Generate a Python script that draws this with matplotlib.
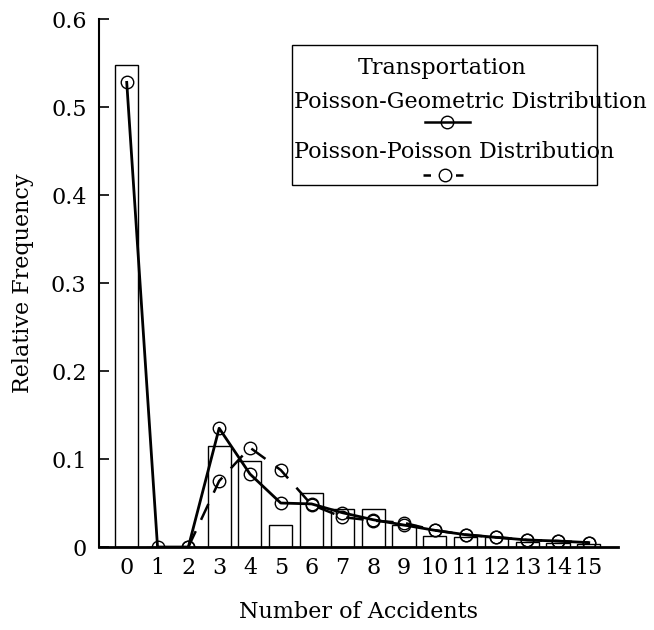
import numpy as np
import matplotlib.pyplot as plt
from matplotlib.patches import Rectangle

plt.rcParams['font.family'] = ['DejaVu Serif']

accidents = list(range(16))
observed = [0.548, 0.0, 0.0, 0.115, 0.098, 0.025, 0.061, 0.043, 0.043,
            0.025, 0.013, 0.011, 0.011, 0.006, 0.005, 0.003]
poisson_geometric = [0.528, 0.0, 0.0, 0.135, 0.083, 0.050, 0.049, 0.039, 0.031,
                     0.025, 0.019, 0.014, 0.011, 0.008, 0.0068, 0.005]
pp_x = list(range(2, 16))
poisson_poisson = [0.0, 0.075, 0.113, 0.0875, 0.048, 0.034, 0.030,
                   0.0275, 0.019, 0.014, 0.011, 0.008, 0.0068, 0.005]
tick_labels = [str(k) for k in accidents]

fig = plt.figure(figsize=(6.54, 6.3), dpi=100)
ax = fig.add_axes([0.1514, 0.1317, 0.7936, 0.8381])

ax.bar(accidents, observed, width=0.75, color='white', edgecolor='black', linewidth=1.0, zorder=1)
ax.plot(accidents, poisson_geometric, '-', color='black', lw=2.0, marker='o', ms=9,
        mfc='none', mec='black', mew=1.0, zorder=3)
ax.plot(pp_x, poisson_poisson, color='black', lw=1.8, dashes=(7, 5), marker='o', ms=9,
        mfc='none', mec='black', mew=1.0, zorder=2)

ax.set_xlim(-0.9, 15.95)
ax.set_ylim(0, 0.6)
ax.set_xticks(accidents)
ax.set_xticklabels(tick_labels)
ax.set_yticks([0, 0.1, 0.2, 0.3, 0.4, 0.5, 0.6])
ax.set_yticklabels(['0', '0.1', '0.2', '0.3', '0.4', '0.5', '0.6'])
ax.tick_params(axis='x', length=0, pad=7, labelsize=16)
ax.tick_params(axis='y', direction='in', length=7, width=1.2, pad=9, labelsize=16)
ax.spines['top'].set_visible(False)
ax.spines['right'].set_visible(False)
ax.spines['left'].set_linewidth(1.5)
ax.spines['bottom'].set_linewidth(2.0)

ax.set_xlabel('Number of Accidents', fontsize=16, labelpad=16)
ax.set_ylabel('Relative Frequency', fontsize=16, labelpad=12)

# hand-built legend box
tr = ax.transAxes
ax.add_patch(Rectangle((0.372, 0.686), 0.587, 0.265, transform=tr, fill=False,
                       edgecolor='black', lw=1.0, clip_on=False, zorder=4))
ax.text(0.661, 0.907, 'Transportation', transform=tr, ha='center', va='center', fontsize=16)
ax.text(0.376, 0.843, 'Poisson-Geometric Distribution', transform=tr, ha='left', va='center', fontsize=16)
ax.plot([0.628, 0.715], [0.805, 0.805], '-', color='black', lw=1.8, transform=tr, clip_on=False)
ax.plot([0.671], [0.805], 'o', ms=9, mfc='none', mec='black', mew=1.0, transform=tr, clip_on=False)
ax.text(0.376, 0.748, 'Poisson-Poisson Distribution', transform=tr, ha='left', va='center', fontsize=16)
ax.plot([0.624, 0.708], [0.705, 0.705], color='black', lw=1.8, dashes=(3, 10), transform=tr, clip_on=False)
ax.plot([0.667], [0.705], 'o', ms=9, mfc='none', mec='black', mew=1.0, transform=tr, clip_on=False)

fig.savefig('out.png', dpi=100)
